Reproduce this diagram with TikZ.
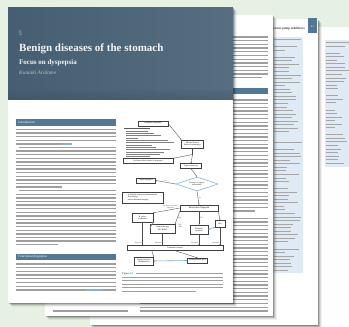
\documentclass[tikz,border=0pt]{standalone}
\usepackage{fontspec}
\setmainfont{Liberation Serif}
\usetikzlibrary{shapes.geometric,arrows.meta}
\definecolor{bggreen}{RGB}{230,241,228}
\definecolor{hdrL}{RGB}{70,94,114}
\definecolor{hdrR}{RGB}{86,110,128}
\definecolor{barblue}{RGB}{82,120,150}
\definecolor{panelblue}{RGB}{224,234,244}
\definecolor{flowblue}{RGB}{125,165,205}
\definecolor{capblue}{RGB}{40,110,170}
\tikzset{
  tline/.style={line width=1.25pt, draw=black!38},
  pline/.style={line width=0.9pt, draw=black!35},
  sline/.style={line width=0.7pt, draw=black!50},
  cline/.style={line width=1.0pt, draw=black!38},
  fbox/.style={draw=black!75, line width=0.35pt, fill=white, inner sep=0.4pt, font=\fontsize{2}{2.3}\selectfont, align=center},
  farr/.style={-{Stealth[length=1.3pt,width=1.1pt]}, line width=0.35pt, draw=black!70},
  fline/.style={line width=0.35pt, draw=black!70},
  darr/.style={{Stealth[length=1.6pt,width=1.8pt]}-{Stealth[length=1.6pt,width=1.8pt]}, line width=0.6pt, draw=flowblue},
  flab/.style={font=\fontsize{1.8}{2}\selectfont, inner sep=0.2pt, text=black!75, align=center},
}
\newcommand\pgshadow[4]{%
  \foreach \d/\o in {0.8/0.22,1.6/0.14,2.6/0.09,3.8/0.05}{%
    \fill[black,opacity=\o] (#1+\d,#2+\d) rectangle (#3+\d,#4+\d);}}
\begin{document}
\begin{tikzpicture}[x=1pt,y=-1pt]
\useasboundingbox (0,0) rectangle (349,327);
\fill[bggreen] (0,0) rectangle (349,327);

% ---------- fourth page ----------
\fill[white!96!bggreen] (318,27) rectangle (349,327);
\fill[panelblue] (325,40) rectangle (349,167);
\pgfmathsetseed{11}
\foreach \i in {0,...,34}{%
  \pgfmathsetmacro\yy{42.5+\i*3.55}
  \pgfmathsetmacro\ll{rnd<0.15 ? 0 : 8+rnd*16}
  \draw[pline] (326,\yy) -- ++(\ll,0);}

% ---------- third page ----------
\pgshadow{90}{19}{318}{325}
\fill[white] (90,19) rectangle (318,325);
\fill[panelblue] (273,37) rectangle (303,273);
\pgfmathsetseed{5}
\foreach \i in {0,...,65}{%
  \pgfmathsetmacro\yy{39.5+\i*3.55}
  \pgfmathsetmacro\ll{rnd<0.13 ? 0 : 10+rnd*18}
  \draw[pline] (274,\yy) -- ++(\ll,0);}
\node[anchor=base east, inner sep=0, font=\bfseries\fontsize{3.3}{3.3}\selectfont, text=black!75] (rhead) at (305,29.5) {Proton pump inhibitors};
\fill[barblue] (308,18) rectangle (317,33);
\node[inner sep=0, font=\fontsize{2.6}{2.6}\selectfont, text=white] (pgno) at (312.5,27) {41};

% ---------- second page ----------
\pgshadow{45}{15}{273}{316}
\fill[white] (45,15) rectangle (273,316);
\foreach \i in {0,...,11}{%
  \pgfmathsetmacro\yy{37+\i*3.7}
  \pgfmathsetmacro\xe{\i==11 ? 262 : 268}
  \draw[tline] (140,\yy) -- (\xe,\yy);}
\fill[barblue] (140,87.5) rectangle (268,94);
\foreach \i in {0,...,57}{%
  \pgfmathsetmacro\yy{100+\i*3.7}
  \pgfmathsetmacro\xe{\i==31 ? 140 : (\i==30 ? 255 : 268)}
  \draw[tline] (140,\yy) -- (\xe,\yy);}
\draw[tline] (53,311) -- (128,311);

% ---------- front page ----------
\pgshadow{8}{7}{233}{303}
\fill[white] (8,7) rectangle (233,303);
\shade[left color=hdrL,right color=hdrR] (8,7) rectangle (233,99);
\shade[top color=hdrL, bottom color=hdrL!70!black, opacity=0.25] (8,90) rectangle (233,99);
\node[anchor=base west, inner sep=0, text=white!65!hdrL, font=\fontsize{6.5}{6.5}\selectfont] (chap) at (18.5,35) {5};
\node[anchor=base west, inner sep=0, text=white!93!hdrL, font=\bfseries\fontsize{11}{11}\selectfont] (title) at (19,51.5) {Benign diseases of the stomach};
\node[anchor=base west, inner sep=0, text=white!93!hdrL, font=\bfseries\fontsize{7}{7}\selectfont] (sub) at (19,64.5) {Focus on dyspepsia};
\node[anchor=base west, inner sep=0, text=white!62!hdrL, font=\itshape\fontsize{5.4}{5.4}\selectfont] (auth) at (19,74) {Kuniaki Aridome};

% Introduction
\fill[barblue] (16,119) rectangle (116,125.5);
\node[anchor=west, inner sep=0, text=white, font=\fontsize{3.4}{3.4}\selectfont] (intro) at (18,122.3) {Introduction};
\foreach \i in {0,...,32}{%
  \pgfmathsetmacro\yy{129.5+\i*3.6}
  \pgfmathsetmacro\xs{\i==5 ? 19 : (\i==17 ? 19 : 16)}
  \pgfmathsetmacro\xe{\i==4 ? 72 : (\i==16 ? 62 : (\i==32 ? 58 : 116))}
  \draw[tline] (\xs,\yy) -- (\xe,\yy);}
\draw[line width=1.25pt, draw=capblue!55] (62,143.9) -- (72,143.9);

% Functional dyspepsia
\fill[barblue] (16,253.5) rectangle (116,259.5);
\node[anchor=west, inner sep=0, text=white, font=\fontsize{3.4}{3.4}\selectfont] (fdsec) at (18,256.6) {Functional dyspepsia};
\foreach \i in {0,...,7}{%
  \pgfmathsetmacro\yy{264+\i*3.7}
  \draw[tline] (16,\yy) -- (116,\yy);}
\draw[line width=1.25pt, draw=capblue!55] (86,289.9) -- (103,289.9);

% ---------- flowchart ----------
\node[fbox, minimum width=30pt, minimum height=5pt] (ds) at (153,123.5) {Dyspeptic symptoms};
\draw[sline, draw=black!65] (124,128.6) -- (150,128.6);
\foreach \i/\l in {1/22,2/28,3/35,4/12,5/42,6/48,7/26,8/30,9/44,10/38,11/34,12/24}{%
  \pgfmathsetmacro\yy{128.6+\i*2.35}
  \draw[sline] (126,\yy) -- ++(\l,0);}
\node[fbox, minimum width=22pt, minimum height=8pt] (mh) at (192.5,144) {Medical history\\Medical examination};
\node[fbox, minimum width=50pt, minimum height=5pt] (ex) at (148,161) {Exclude evident causes of dyspepsia};
\node[fbox, minimum width=21pt, minimum height=5pt] (ue) at (191,166) {Upper endoscopy};
\node[diamond, aspect=3, draw=flowblue, line width=0.5pt, fill=white, minimum width=42pt, minimum height=14pt, inner sep=0, font=\fontsize{1.9}{2.2}\selectfont, align=center] (dia) at (197,184) {Etiologic or organic\\abnormality?};
\node[fbox, minimum width=19pt, minimum height=5pt] (od) at (146,180.5) {Organ dyspepsia};
\node[fbox, minimum width=41pt, minimum height=11pt, align=left] (ls) at (142.5,197.5) {A lifestyle-related recommendations\\Diet therapy\\and/or abnormal imaging};
\node[fbox, minimum width=38pt, minimum height=6pt, font=\fontsize{2.4}{2.6}\selectfont] (fd) at (199,208) {Functional dyspepsia};
\node[fbox, minimum width=21pt, minimum height=9pt] (hp) at (142.5,217.5) {H. pylori\\eradication};
\node[fbox, minimum width=25pt, minimum height=9pt] (at) at (162.5,228.5) {Antacid therapy\\PPI, H2RA};
\node[fbox, minimum width=18pt, minimum height=9pt] (pk) at (199,229.5) {Prokinetic\\medicine};
\node[fbox, minimum width=10pt, minimum height=7pt] (diet) at (220,223.5) {Diet};
\node[fbox, minimum width=96pt, minimum height=5pt] (tr) at (175,248) {Treatment resistant};
\node[fbox, minimum width=19pt, minimum height=8pt] (hm) at (144,261) {Herbal medicine\\(Rikkunshito)};
\node[fbox, minimum width=20pt, minimum height=5pt] (ad) at (197.5,260.5) {Antidepressant agent};

\coordinate (br) at (192.5,154.5);
\draw[farr] (ds.east) -- (mh.north west);
\draw[fline] (mh.south) -- (br);
\draw[farr] (br) -- (ex.north east);
\draw[farr] (br) -- (ue.north);
\draw[farr] (ue.south) -- (dia.north);
\draw[farr] (dia.west) -- node[flab, above=0.4pt] {Yes} (od.east);
\draw[farr] (dia.south) -- node[flab, right=0.6pt] {No} (fd.north);
\draw[farr] (fd.west) -- node[flab, above=0.6pt, pos=0.35] {H. pylori associated\\dyspepsia} (hp.north east);
\draw[farr] (fd.south west) -- node[flab, right=0.3pt] {EPS} (at.north east);
\draw[farr] (fd.south) -- node[flab, right=0.3pt] {PDS} (pk.north);
\draw[farr] (fd.south east) -- (diet.north);
\node[flab] (epsp) at (180,226) {EPS\\+PDS};
\draw[darr] (hp.south east) -- (at.west);
\draw[darr] (pk.east) -- (diet.south west);
\foreach \n in {hp,at,pk,diet}{%
  \draw[farr] (\n.south) -- (\n.south |- tr.north);
  \node[flab, anchor=east] at ([xshift=-0.5pt,yshift=2.5pt]\n.south |- tr.north) {Repeated};}
\draw[farr] (tr.south west) ++(25pt,0) -- (hm.north east);
\draw[farr] (tr.south) -- (ad.north);
\draw[darr] (hm.east) -- (ad.west);

% caption
\node[anchor=base west, inner sep=0, text=capblue, font=\bfseries\fontsize{2.6}{2.6}\selectfont] (cap) at (122,274.3) {Figure 5.1};
\draw[cline] (136,273.5) -- (223,273.5);
\foreach \i in {1,...,5}{%
  \pgfmathsetmacro\yy{273.5+\i*3.6}
  \pgfmathsetmacro\xe{\i==5 ? 196 : 223}
  \draw[cline] (122,\yy) -- (\xe,\yy);}
\end{tikzpicture}
\end{document}
